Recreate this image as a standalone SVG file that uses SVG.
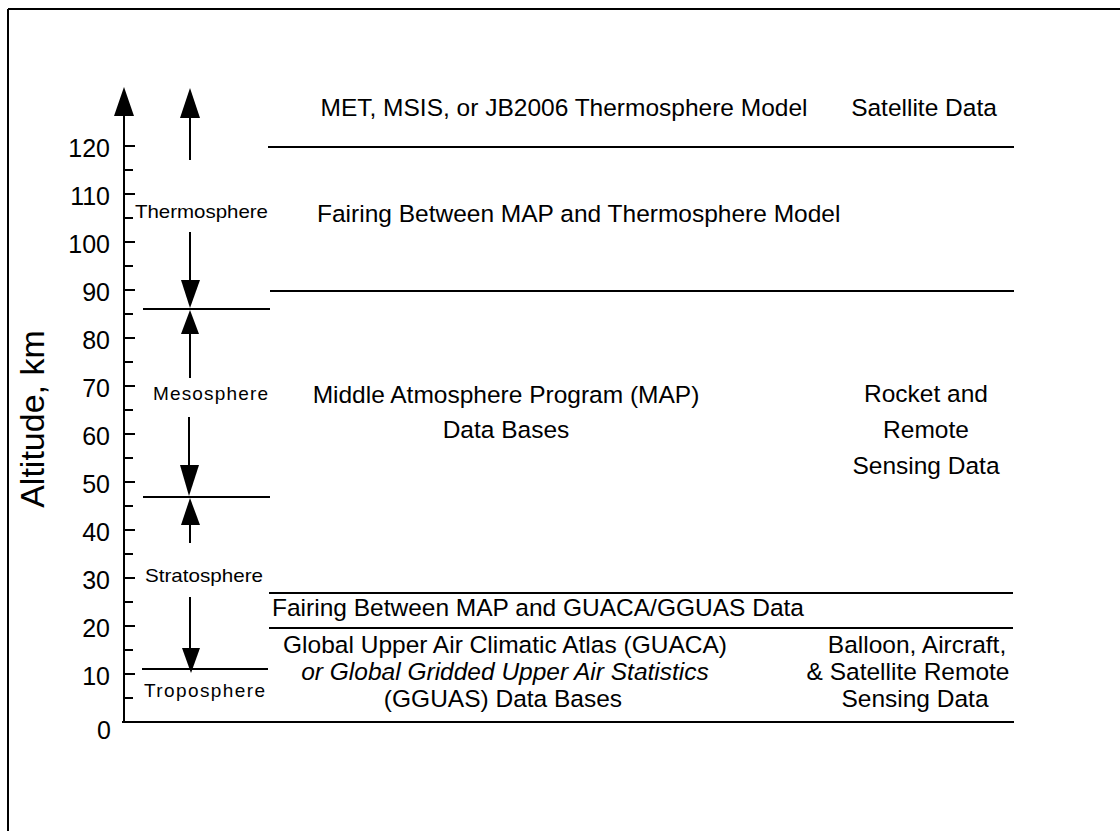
<svg xmlns="http://www.w3.org/2000/svg" width="1120" height="831" viewBox="0 0 1120 831">
<style>
text{font-family:"Liberation Sans",Arial,sans-serif;fill:#000}
.main{font-size:24.5px}
.tick{font-size:25px;text-anchor:end}
.layer{font-size:19px}
.mid{text-anchor:middle}
.ln{stroke:#000;stroke-width:2;fill:none}
.ah{fill:#000;stroke:none}
</style>
<rect x="0" y="0" width="1120" height="831" fill="#fff"/>
<g id="frame" class="ln">
<line x1="8" y1="9" x2="8" y2="831"/>
<line x1="8" y1="9" x2="1120" y2="9"/>
</g>
<g id="axis">
<line class="ln" x1="124" y1="114" x2="124" y2="723"/>
<polygon class="ah" points="124,87 114,116 134,116"/>
<g class="ln" stroke-width="1.5">
<line x1="124" y1="146" x2="135" y2="146"/><line x1="124" y1="170" x2="133" y2="170"/>
<line x1="124" y1="194" x2="135" y2="194"/><line x1="124" y1="218" x2="133" y2="218"/>
<line x1="124" y1="242" x2="135" y2="242"/><line x1="124" y1="266" x2="133" y2="266"/>
<line x1="124" y1="290" x2="135" y2="290"/><line x1="124" y1="314" x2="133" y2="314"/>
<line x1="124" y1="338" x2="135" y2="338"/><line x1="124" y1="362" x2="133" y2="362"/>
<line x1="124" y1="386" x2="135" y2="386"/><line x1="124" y1="410" x2="133" y2="410"/>
<line x1="124" y1="434" x2="135" y2="434"/><line x1="124" y1="458" x2="133" y2="458"/>
<line x1="124" y1="482" x2="135" y2="482"/><line x1="124" y1="506" x2="133" y2="506"/>
<line x1="124" y1="530" x2="135" y2="530"/><line x1="124" y1="554" x2="133" y2="554"/>
<line x1="124" y1="578" x2="135" y2="578"/><line x1="124" y1="602" x2="133" y2="602"/>
<line x1="124" y1="626" x2="135" y2="626"/><line x1="124" y1="650" x2="133" y2="650"/>
<line x1="124" y1="674" x2="135" y2="674"/><line x1="124" y1="698" x2="133" y2="698"/>
</g>
<text class="tick" x="110" y="157">120</text>
<text class="tick" x="110" y="205">110</text>
<text class="tick" x="110" y="253">100</text>
<text class="tick" x="110" y="301">90</text>
<text class="tick" x="110" y="349">80</text>
<text class="tick" x="110" y="397">70</text>
<text class="tick" x="110" y="445">60</text>
<text class="tick" x="110" y="493">50</text>
<text class="tick" x="110" y="541">40</text>
<text class="tick" x="110" y="589">30</text>
<text class="tick" x="110" y="637">20</text>
<text class="tick" x="110" y="685">10</text>
<text class="tick" x="111" y="739">0</text>
<text class="mid" font-size="34" transform="translate(44 419) rotate(-90)">Altitude, km</text>
</g>
<g id="connectors">
<line class="ln" x1="190" y1="116" x2="190" y2="160"/>
<polygon class="ah" points="190,88 180,118 200,118"/>
<line class="ln" x1="190" y1="232" x2="190" y2="282"/>
<polygon class="ah" points="181,280 200,280 190,308"/>
<polygon class="ah" points="190,310 181,334 199,334"/>
<line class="ln" x1="190" y1="332" x2="190" y2="378"/>
<line class="ln" x1="189" y1="417" x2="189" y2="467"/>
<polygon class="ah" points="180,465 199,465 189,496"/>
<polygon class="ah" points="190,498 181,525 200,525"/>
<line class="ln" x1="190" y1="523" x2="190" y2="543"/>
<line class="ln" x1="190" y1="597" x2="190" y2="650"/>
<polygon class="ah" points="182,648 200,648 191,673"/>
<line class="ln" x1="143" y1="309" x2="270" y2="309"/>
<line class="ln" x1="143" y1="497" x2="270" y2="497"/>
<line class="ln" x1="142" y1="669" x2="268" y2="669"/>
<line class="ln" x1="268" y1="147" x2="1014" y2="147"/>
<line class="ln" x1="270" y1="291" x2="1014" y2="291"/>
<line class="ln" x1="269" y1="593" x2="1013" y2="593"/>
<line class="ln" x1="269" y1="628" x2="1013" y2="628"/>
<line class="ln" stroke-width="3" x1="122" y1="722" x2="1014" y2="722"/>
</g>
<g id="layer-thermosphere"><text class="layer" x="135" y="218" font-size="20" textLength="133" lengthAdjust="spacingAndGlyphs">Thermosphere</text></g>
<g id="layer-mesosphere"><text class="layer" x="153" y="400" font-size="18" textLength="115" lengthAdjust="spacing">Mesosphere</text></g>
<g id="layer-stratosphere"><text class="layer" x="145" y="582" textLength="118" lengthAdjust="spacingAndGlyphs">Stratosphere</text></g>
<g id="layer-troposphere"><text class="layer" x="144" y="697" textLength="121" lengthAdjust="spacing">Troposphere</text></g>
<g id="thermo-model"><text class="main mid" x="564" y="116">MET, MSIS, or JB2006 Thermosphere Model</text></g>
<g id="satellite-data"><text class="main mid" x="924" y="116">Satellite Data</text></g>
<g id="fairing-thermo"><text class="main" x="317" y="222">Fairing Between MAP and Thermosphere Model</text></g>
<g id="map-db"><text class="main mid" x="506" y="403">Middle Atmosphere Program (MAP)</text><text class="main mid" x="506" y="438">Data Bases</text></g>
<g id="rocket-data"><text class="main mid" x="926" y="402">Rocket and</text><text class="main mid" x="926" y="438">Remote</text><text class="main mid" x="926" y="474">Sensing Data</text></g>
<g id="fairing-guaca"><text class="main" x="272" y="616">Fairing Between MAP and GUACA/GGUAS Data</text></g>
<g id="guaca-db"><text class="main mid" x="505" y="653">Global Upper Air Climatic Atlas (GUACA)</text><text class="main mid" x="505" y="680" font-style="italic">or Global Gridded Upper Air Statistics</text><text class="main mid" x="503" y="707">(GGUAS) Data Bases</text></g>
<g id="balloon-data"><text class="main mid" x="917" y="653">Balloon, Aircraft,</text><text class="main mid" x="908" y="680">&amp; Satellite Remote</text><text class="main mid" x="915" y="707">Sensing Data</text></g>
</svg>
